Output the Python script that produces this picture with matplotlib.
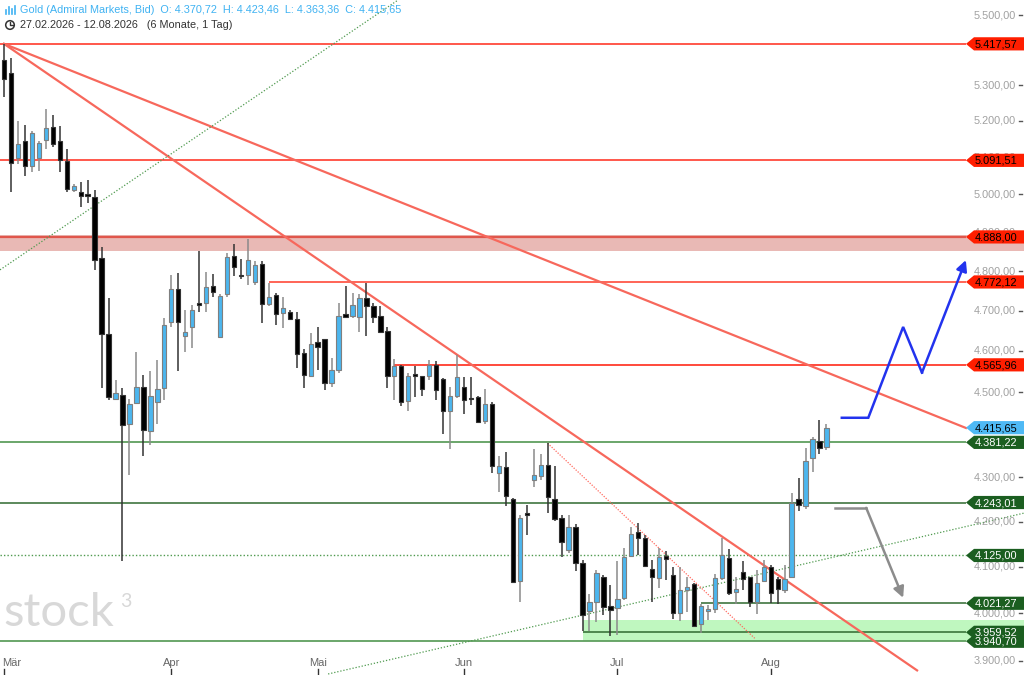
import numpy as np
import matplotlib.pyplot as plt
from matplotlib.patches import Polygon, Circle
from matplotlib.transforms import blended_transform_factory

plt.rcParams['font.family'] = ['Liberation Sans', 'DejaVu Sans']

# Tageskerzen Gold 27.02.2026 - 12.08.2026
opens = [5371, 5333, 5097, 5145, 5076, 5099, 5147, 5184, 5143, 5091,
         5012, 5007, 4999, 4994, 4833, 4642, 4483, 4494, 4425, 4475,
         4513, 4408, 4477, 4509, 4672, 4754, 4637, 4658, 4716, 4718,
         4763, 4634, 4741, 4839, 4789, 4790, 4773, 4817, 4716, 4739,
         4693, 4696, 4679, 4594, 4539, 4623, 4629, 4522, 4554, 4691,
         4686, 4685, 4732, 4712, 4686, 4650, 4538, 4564, 4479, 4543,
         4538, 4539, 4566, 4532, 4454, 4490, 4513, 4484, 4488, 4432,
         4471, 4310, 4325, 4251, 4070, 4217, 4294, 4304, 4329, 4252,
         4209, 4137, 4189, 4109, 4005, 4025, 4078, 4016, 4012, 4032,
         4123, 4178, 4163, 4095, 4075, 4123, 4083, 4001, 4050, 4063,
         3977, 4005, 4008, 4075, 4119, 4046, 4088, 4078, 4025, 4070,
         4099, 4074, 4049, 4077, 4251, 4236, 4345, 4385, 4370.72]
highs = [5417, 5376, 5200, 5188, 5173, 5145, 5233, 5217, 5186, 5123,
         5028, 5034, 5039, 5012, 4863, 4732, 4530, 4511, 4483, 4598,
         4542, 4550, 4578, 4682, 4789, 4796, 4701, 4714, 4852, 4798,
         4792, 4742, 4845, 4869, 4831, 4882, 4826, 4826, 4769, 4743,
         4735, 4701, 4697, 4605, 4644, 4658, 4629, 4582, 4718, 4762,
         4745, 4742, 4770, 4718, 4711, 4658, 4580, 4566, 4547, 4564,
         4539, 4578, 4576, 4533, 4512, 4590, 4536, 4536, 4491, 4508,
         4477, 4350, 4359, 4253, 4215, 4238, 4365, 4353, 4379, 4327,
         4214, 4214, 4194, 4114, 4042, 4094, 4083, 4061, 4112, 4141,
         4189, 4196, 4171, 4115, 4141, 4134, 4100, 4100, 4078, 4064,
         4019, 4017, 4085, 4163, 4139, 4078, 4112, 4079, 4093, 4114,
         4104, 4078, 4104, 4264, 4298, 4368, 4393, 4434, 4423.46]
lows = [5266, 5006, 5082, 5049, 5059, 5063, 5123, 5127, 5061, 5006,
        5006, 4966, 4977, 4803, 4511, 4481, 4481, 4113, 4306, 4475,
        4350, 4375, 4424, 4481, 4660, 4552, 4598, 4606, 4696, 4696,
        4735, 4631, 4735, 4786, 4779, 4765, 4765, 4668, 4711, 4664,
        4656, 4676, 4558, 4509, 4536, 4554, 4505, 4513, 4546, 4685,
        4681, 4647, 4637, 4668, 4644, 4509, 4481, 4466, 4454, 4489,
        4491, 4530, 4481, 4400, 4365, 4486, 4448, 4470, 4426, 4425,
        4311, 4268, 4236, 4066, 4024, 4171, 4279, 4294, 4219, 4202,
        4121, 4130, 4091, 3962, 3963, 3982, 3996, 3952, 3954, 4029,
        4121, 4126, 4100, 4023, 4054, 4072, 3987, 3984, 4003, 3970,
        3959, 3985, 4000, 4071, 4039, 4020, 4050, 4014, 3998, 4068,
        4021, 4020, 4044, 4075, 4223, 4228, 4313, 4355, 4363.36]
closes = [5316, 5085, 5135, 5076, 5166, 5138, 5181, 5135, 5092, 5014,
          5023, 4997, 4996, 4827, 4642, 4489, 4499, 4423, 4471, 4513,
          4410, 4491, 4507, 4663, 4754, 4672, 4646, 4702, 4715, 4760,
          4746, 4737, 4837, 4811, 4786, 4827, 4815, 4716, 4735, 4691,
          4706, 4678, 4592, 4542, 4617, 4610, 4522, 4554, 4686, 4685,
          4714, 4731, 4712, 4685, 4647, 4538, 4562, 4477, 4540, 4539,
          4507, 4566, 4504, 4454, 4491, 4536, 4482, 4483, 4430, 4471,
          4327, 4327, 4257, 4068, 4209, 4216, 4306, 4329, 4255, 4206,
          4154, 4188, 4108, 3996, 4023, 4087, 4014, 4007, 4030, 4121,
          4173, 4163, 4103, 4077, 4121, 4117, 4000, 4050, 4057, 3973,
          4016, 4008, 4075, 4126, 4044, 4051, 4074, 4025, 4065, 4100,
          4043, 4052, 4073, 4243, 4238, 4338, 4388, 4368, 4415.65]

month_labels = ['Mär', 'Apr', 'Mai', 'Jun', 'Jul', 'Aug']
month_pos = [0, 24, 45, 66, 88, 110]

# 5.400 und 4.400 liegen komplett unter den Preismarken
price_ticks = [3900, 4000, 4100, 4200, 4300, 4500, 4600, 4700, 4800,
               4900, 5000, 5100, 5200, 5300, 5500]

# Marken rechts
red_levels = [5417.57, 5091.51, 4888.00, 4772.12, 4565.96]
green_levels = [4381.22, 4243.01, 4125.00, 4021.27, 3940.70, 3959.52]
last_price = 4415.65


def de(v):
    return f"{v:,.2f}".replace(',', 'X').replace('.', ',').replace('X', '.')


opens = np.array(opens)
highs = np.array(highs)
lows = np.array(lows)
closes = np.array(closes)
idx = np.arange(len(opens))
up = closes >= opens

fig = plt.figure(figsize=(10.24, 6.75), dpi=100)
ax = fig.add_axes([0, 0, 1, 1])
ax.set_yscale('log')
x0, x1 = -0.574, 146.34
ax.set_xlim(x0, x1)
ax.set_ylim(3870.5, 5545.6)
ax.axis('off')
xe = 138.0   # Ende der Linien (Spitze der Preismarken)

# Zonen
ax.fill_between([x0, x1], 4852, 4893, color='#e9b9b5', zorder=1, lw=0)
ax.fill_between([83, x1], 3941, 3986, color='#bff7bf', zorder=1, lw=0)

# horizontale Linien
ax.hlines(5417.57, x0, xe, color='#ff2a1a', lw=1.1, zorder=2)
ax.hlines(5091.51, x0, xe, color='#ff2a1a', lw=1.1, zorder=2)
ax.hlines(4888.00, x0, xe, color='#e0564b', lw=1.6, zorder=2)
ax.hlines(4772.12, 38, xe, color='#ff4a3a', lw=1.2, zorder=2)
ax.hlines(4565.96, 56, xe, color='#ff2a1a', lw=1.2, zorder=2)
ax.hlines(4381.22, x0, xe, color='#5f9f5f', lw=1.3, zorder=2)
ax.hlines(4243.01, x0, xe, color='#2f6a2f', lw=1.1, zorder=2)
ax.hlines(4125.00, x0, xe, color='#4f9a4f', lw=1.0, ls=(0, (1, 1.5)), zorder=2)
ax.hlines(4021.27, 100, xe, color='#2f6a2f', lw=1.1, zorder=2)
ax.hlines(3959.52, 83, xe, color='#2f6a2f', lw=1.1, zorder=2)
ax.hlines(3940.70, x0, xe, color='#5f9f5f', lw=1.3, zorder=2)

# Trendlinien
ax.plot([0, xe], [5417.57, 4415], color='#f7685c', lw=1.6, zorder=2)
ax.plot([0, 131], [5417.57, 3880], color='#f7685c', lw=1.6, zorder=2)
ax.plot([x0, 56.5], [4803, 5545], color='#4f9a4f', lw=0.9, ls=(0, (1, 1.5)), zorder=2)
ax.plot([46.5, 146.3], [3872.6, 4219], color='#4f9a4f', lw=0.9, ls=(0, (1, 1.5)), zorder=2)
ax.plot([78, 107.7], [4379, 3947], color='#ff6b60', lw=0.9, ls=(0, (1, 1.2)), zorder=2)

# Kerzen
wick_col = np.where(up, '#8a8a8a', '#333333')
ax.vlines(idx, lows, highs, colors=wick_col, lw=1.1, zorder=3)
bottoms = np.minimum(opens, closes)
heights = np.maximum(np.abs(closes - opens), bottoms * 0.0009)
ax.bar(idx, heights, bottom=bottoms, width=0.62,
       color=np.where(up, '#4cb6ee', '#000000'),
       edgecolor=np.where(up, '#7f7f7f', '#333333'), linewidth=0.8, zorder=4)

# Pfeile (Szenarien)
ax.plot([120.2, 124, 129, 131.7], [4439, 4439, 4659, 4547], color='#2233ee', lw=1.8,
        zorder=5, solid_joinstyle='miter')
ax.annotate('', xy=(138, 4828), xytext=(131.7, 4547),
            arrowprops=dict(arrowstyle='-|>', color='#2233ee', lw=1.8, mutation_scale=16,
                            shrinkA=0, shrinkB=0), zorder=5)
ax.plot([119.2, 123.7], [4231, 4231], color='#8c8c8c', lw=1.8, zorder=5)
ax.annotate('', xy=(129, 4033), xytext=(123.7, 4231),
            arrowprops=dict(arrowstyle='-|>', color='#8c8c8c', lw=1.8, mutation_scale=16,
                            shrinkA=0, shrinkB=0), zorder=5)

# Monatsachse
bt = blended_transform_factory(ax.transData, ax.transAxes)
for lab, pos in zip(month_labels, month_pos):
    ax.text(pos if pos > 0 else -0.3, 0.0178, lab, transform=bt, fontsize=8,
            color='#666666', ha='left' if pos == 0 else 'center', va='center', zorder=6)
    ax.plot([pos, pos], [0, 0.009], transform=bt, color='#333333', lw=1, zorder=6)

# Overlay in Pixelkoordinaten
ui = fig.add_axes([0, 0, 1, 1])
ui.set_xlim(0, 1024)
ui.set_ylim(675, 0)
ui.axis('off')
ui.patch.set_alpha(0)


def py(price):
    disp = ax.transData.transform((0, price))
    return ui.transData.inverted().transform(disp)[1]


for t in price_ticks:
    y = py(t)
    ui.text(1016, y, de(t), fontsize=7.8, color='#a0a0a0', ha='right', va='center', zorder=1)
    ui.plot([1018.5, 1022], [y, y], color='#555555', lw=1, zorder=1)


def tag(price, face, tcol):
    y = py(price)
    pts = [(966, y), (974, y - 6.6), (1024, y - 6.6), (1024, y + 6.6), (974, y + 6.6)]
    ui.add_patch(Polygon(pts, closed=True, fc=face, ec='none', zorder=3))
    ui.text(1017, y + 0.5, de(price), fontsize=7.9, color=tcol, ha='right', va='center', zorder=4)


for p in red_levels:
    tag(p, '#ff1e00', '#000000')
tag(last_price, '#4fb9f5', '#000000')
for p in green_levels:
    tag(p, '#1b5e20', '#ffffff')

# Kopfzeile
ui.text(20, 10, 'Gold (Admiral Markets, Bid)  O: 4.370,72  H: 4.423,46  L: 4.363,36  C: 4.415,65',
        fontsize=7.8, color='#3fb2f2', ha='left', va='center')
for xx, h in zip([5.5, 8.5, 11.5, 14.5], [4, 7, 5, 8]):
    ui.plot([xx, xx], [14, 14 - h], color='#3fb2f2', lw=1.2)
ui.text(20, 25, '27.02.2026 - 12.08.2026   (6 Monate, 1 Tag)',
        fontsize=7.8, color='#333333', ha='left', va='center')
ui.add_patch(Circle((10, 25), 4.3, fc='none', ec='#333333', lw=1.1))
ui.plot([10, 10, 12.5], [22, 25, 25], color='#333333', lw=1.0)

# Wasserzeichen
ui.text(3, 626, 'stock', fontsize=34, color='#d8d8d8', ha='left', va='baseline',
        family='Lato')
ui.text(120, 607, '3', fontsize=14, color='#d8d8d8', ha='left', va='baseline',
        family='Lato')

fig.savefig('out.png', dpi=100)
